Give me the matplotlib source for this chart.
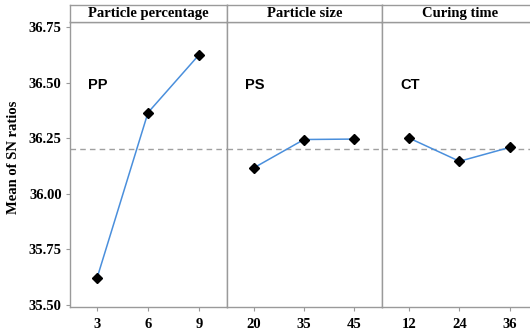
import matplotlib
matplotlib.use("Agg")
import matplotlib.pyplot as plt

factors = ["Particle percentage", "Particle size", "Curing time"]
codes = ["PP", "PS", "CT"]
levels = [["3", "6", "9"], ["20", "35", "45"], ["12", "24", "36"]]
sn_means = [
    [35.62, 36.365, 36.625],
    [36.116, 36.244, 36.246],
    [36.251, 36.146, 36.209],
]
overall_mean = 36.20
yticks = [35.50, 35.75, 36.00, 36.25, 36.50, 36.75]

W, H = 530, 331
fig = plt.figure(figsize=(W / 100, H / 100), dpi=100)

serif = ["Liberation Serif", "DejaVu Serif"]
edge = "#9a9a9a"
line_col = "#4a8fdc"

# panel pixel extents
panels_px = [(70, 227), (227, 382), (382, 538)]
bottom_px, top_px, strip_top_px = 307, 22, 5

for i, (x0, x1) in enumerate(panels_px):
    ax = fig.add_axes([x0 / W, (H - bottom_px) / H, (x1 - x0) / W, (bottom_px - top_px) / H])
    xs = list(range(len(levels[i])))
    ax.axhline(overall_mean, color="#a0a0a0", ls=(0, (4, 3)), lw=1.0, zorder=1)
    ax.plot(xs, sn_means[i], color=line_col, lw=1.1, zorder=2)
    ax.plot(xs, sn_means[i], ls="none", marker="D", ms=5.5, color="black", zorder=3)
    ax.set_xlim(-0.53, 2.55)
    ax.set_ylim(35.49, 36.773)
    ax.set_xticks(xs)
    ax.set_xticklabels(levels[i], fontfamily=serif, fontweight="bold", fontsize=10.5)
    for s in ax.spines.values():
        s.set_color(edge)
        s.set_linewidth(1.0)
    ax.tick_params(axis="x", length=3, color=edge, pad=5)
    if i == 0:
        ax.set_yticks(yticks)
        ax.set_yticklabels([f"{v:.2f}" for v in yticks], fontfamily=serif,
                           fontweight="bold", fontsize=10.5)
        ax.tick_params(axis="y", length=3, color=edge, pad=3)
    else:
        ax.set_yticks([])
    ax.text(0.115, 0.78, codes[i], transform=ax.transAxes, fontsize=10.5,
            fontweight="bold", fontfamily="Liberation Sans", ha="left", va="center")

    # strip header
    sax = fig.add_axes([x0 / W, (H - top_px) / H, (x1 - x0) / W, (top_px - strip_top_px) / H])
    sax.set_xticks([])
    sax.set_yticks([])
    for s in sax.spines.values():
        s.set_color(edge)
        s.set_linewidth(1.0)
    sax.text(0.5, 0.5, factors[i], transform=sax.transAxes, ha="center", va="center",
             fontfamily=serif, fontweight="bold", fontsize=10.5)

fig.text(14 / W, (H - 157) / H, "Mean of SN ratios", rotation=90, ha="center", va="center",
         fontfamily=serif, fontweight="bold", fontsize=10.5)

fig.savefig("out.png", dpi=100)
